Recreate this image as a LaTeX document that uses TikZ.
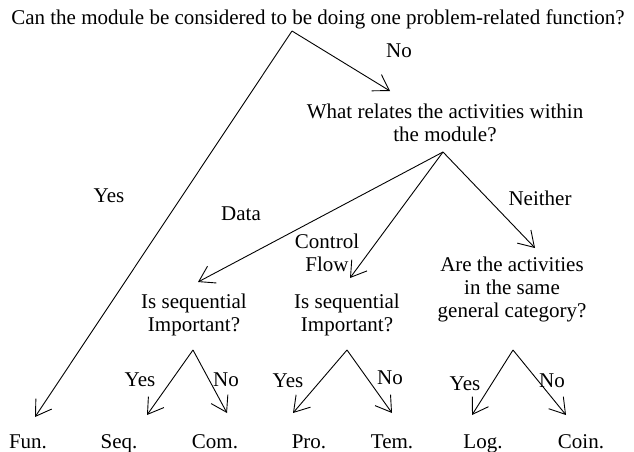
\documentclass[tikz,border=0pt]{standalone}
\usepackage{fontspec}
\setmainfont{Liberation Serif}
\usetikzlibrary{arrows.meta}
\begin{document}
\begin{tikzpicture}[x=1pt,y=-1pt,
  txt/.style={anchor=base,inner sep=0pt,font=\fontsize{21}{23}\selectfont,align=center},
  conn/.style={line width=0.9pt,-{Straight Barb[length=15pt,width=19pt,line width=0.9pt]}}]
\useasboundingbox (0,0) rectangle (634,452);
% questions (multi-line nodes: base = baseline of last line)
\node[txt] (q1) at (318,25) {Can the module be considered to be doing one problem-related function?};
\node[txt] (q2) at (445,141) {What relates the activities within\\the module?};
\node[txt] (q3a) at (194,331) {Is sequential\\Important?};
\node[txt] (q3b) at (347,331) {Is sequential\\Important?};
\node[txt] (q3c) at (512,317) {Are the activities\\in the same\\general category?};
% leaves
\node[txt] (fun) at (28,448) {Fun.};
\node[txt] (seq) at (119,448) {Seq.};
\node[txt] (com) at (215,448) {Com.};
\node[txt] (pro) at (309,448) {Pro.};
\node[txt] (tem) at (392,448) {Tem.};
\node[txt] (log) at (483,448) {Log.};
\node[txt] (coin) at (581,448) {Coin.};
% apexes and arrow tips
\coordinate (a1) at (292,31);
\coordinate (a2) at (443,152);
\coordinate (a3a) at (193,350);
\coordinate (a3b) at (347,350);
\coordinate (a3c) at (513,350);
\coordinate (tfun) at (35,417);
\coordinate (tq2) at (390,91);
\coordinate (tq3a) at (198,282);
\coordinate (tq3b) at (350,278);
\coordinate (tq3c) at (535,248);
\coordinate (tseq) at (147,415);
\coordinate (tcom) at (227,413);
\coordinate (tpro) at (293,413);
\coordinate (ttem) at (392,413);
\coordinate (tlog) at (472,415);
\coordinate (tcoin) at (566,415);
% connectors
\draw[conn] (a1) -- (tfun);
\draw[conn] (a1) -- (tq2);
\draw[conn] (a2) -- (tq3a);
\draw[conn] (a2) -- (tq3b);
\draw[conn] (a2) -- (tq3c);
\draw[conn] (a3a) -- (tseq);
\draw[conn] (a3a) -- (tcom);
\draw[conn] (a3b) -- (tpro);
\draw[conn] (a3b) -- (ttem);
\draw[conn] (a3c) -- (tlog);
\draw[conn] (a3c) -- (tcoin);
% labels
\node[txt] (lyes1) at (109,202) {Yes};
\node[txt] (lno1) at (399,58) {No};
\node[txt] (ldata) at (241,220) {Data};
\node[txt] (lctrl) at (327,271) {Control\\Flow};
\node[txt] (lneither) at (540,205) {Neither};
\node[txt] (lyesa) at (140,386) {Yes};
\node[txt] (lnoa) at (226,386) {No};
\node[txt] (lyesb) at (288,387) {Yes};
\node[txt] (lnob) at (390,384) {No};
\node[txt] (lyesc) at (465,390) {Yes};
\node[txt] (lnoc) at (552,387) {No};
\end{tikzpicture}
\end{document}
